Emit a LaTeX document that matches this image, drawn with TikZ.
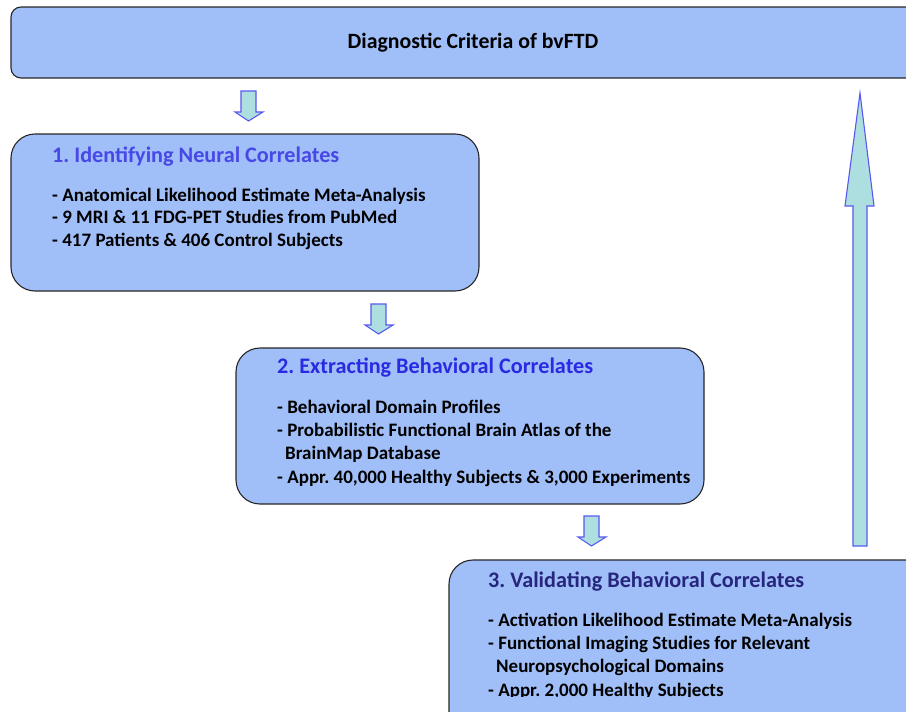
\documentclass[tikz,border=0pt]{standalone}
\usepackage{fontspec}
\setmainfont{Carlito}
\frenchspacing
\definecolor{boxfill}{HTML}{A0BEF8}
\definecolor{arrfill}{HTML}{AEDFE0}
\definecolor{arrline}{HTML}{5858F0}
\definecolor{tone}{HTML}{4848E6}
\definecolor{ttwo}{HTML}{2A2AE2}
\definecolor{tthree}{HTML}{26267E}
\begin{document}
\begin{tikzpicture}[x=1pt,y=-1pt,
  panel/.style={draw=black!85,line width=1.1pt,fill=boxfill},
  fatarrow/.style={draw=arrline,line width=1.1pt,fill=arrfill,line join=miter},
  ttl/.style={anchor=base west,inner sep=0pt,font=\fontsize{22.2}{24}\selectfont\bfseries},
  itm/.style={anchor=base west,inner sep=0pt,font=\fontsize{19}{21}\selectfont\bfseries,text=black}]
\useasboundingbox (0,0) rectangle (906,712);
\clip (0,0) rectangle (906,712);
% panels
\draw[panel,rounded corners=10pt] (11,7) rectangle (930,78);
\node[anchor=base,inner sep=0pt,font=\fontsize{21.8}{24}\selectfont\bfseries] (top) at (473,48.3) {Diagnostic Criteria of bvFTD};
\draw[panel,rounded corners=24pt] (11,134) rectangle (479,291);
\draw[panel,rounded corners=24pt] (236,348) rectangle (704,504);
\draw[panel,rounded corners=24pt] (449,560) rectangle (940,740);
% box 1 text
\node[ttl,text=tone] (t1) at (52,162.5) {1. Identifying Neural Correlates};
\node[itm] (a1) at (52,201) {- Anatomical Likelihood Estimate Meta-Analysis};
\node[itm] (a2) at (52,223.5) {- 9 MRI \& 11 FDG-PET Studies from PubMed};
\node[itm] (a3) at (52,246) {- 417 Patients \& 406 Control Subjects};
% box 2 text
\node[ttl,text=ttwo] (t2) at (277,373.5) {2. Extracting Behavioral Correlates};
\node[itm] (b1) at (277,413) {- Behavioral Domain Profiles};
\node[itm] (b2) at (277,436.5) {- Probabilistic Functional Brain Atlas of the};
\node[itm] (b3) at (285,459.5) {BrainMap Database};
\node[itm] (b4) at (277,483) {- Appr. 40,000 Healthy Subjects \& 3,000 Experiments};
% box 3 text
\node[ttl,text=tthree] (t3) at (488,587.5) {3. Validating Behavioral Correlates};
\node[itm] (c1) at (488,626.5) {- Activation Likelihood Estimate Meta-Analysis};
\node[itm] (c2) at (488,649.5) {- Functional Imaging Studies for Relevant};
\node[itm] (c3) at (496,672.5) {Neuropsychological Domains};
\begin{scope}
\clip (440,600) rectangle (906,696);
\node[itm] (c4) at (488,696) {- Appr. 2,000 Healthy Subjects};
\end{scope}
% small down arrows
\draw[fatarrow] (241,91) -- (256,91) -- (256,112) -- (263,112) -- (248.5,121) -- (235,112) -- (241,112) -- cycle;
\draw[fatarrow] (371,304) -- (386,304) -- (386,325) -- (393,325) -- (378.5,334) -- (365,325) -- (371,325) -- cycle;
\draw[fatarrow] (584,516) -- (599,516) -- (599,537) -- (606,537) -- (591.5,546) -- (578,537) -- (584,537) -- cycle;
% big up arrow
\draw[fatarrow] (853,546) -- (853,206) -- (845,206) -- (860,93) -- (874,206) -- (867,206) -- (867,546) -- cycle;
\end{tikzpicture}
\end{document}
